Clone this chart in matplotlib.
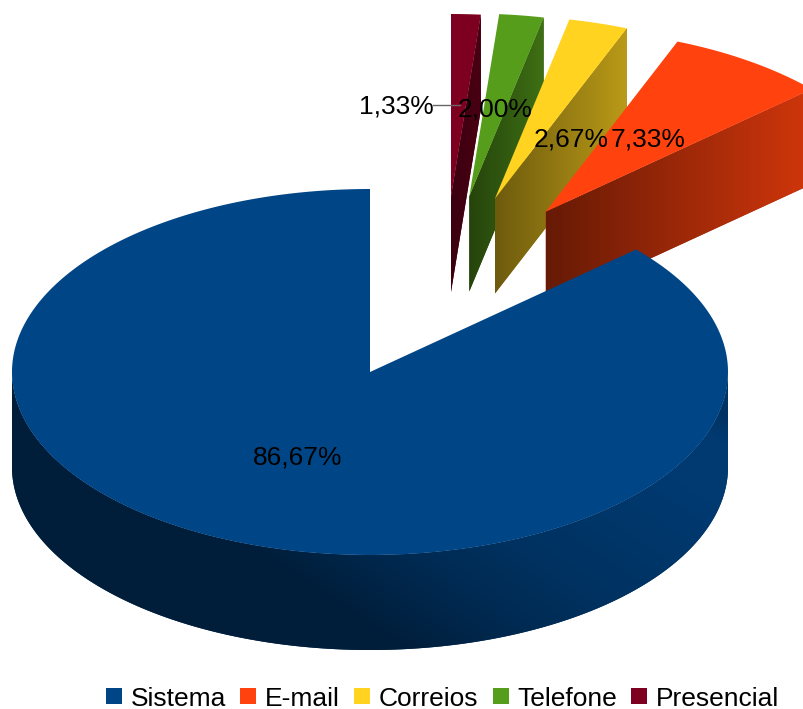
import numpy as np
import matplotlib
matplotlib.use("Agg")
import matplotlib.pyplot as plt
from matplotlib.colors import to_rgb
from matplotlib.patches import Patch, Polygon

plt.rcParams["font.family"] = ["Liberation Sans", "DejaVu Sans"]

# Data
categories = ["Sistema", "E-mail", "Correios", "Telefone", "Presencial"]
percentages = [86.67, 7.33, 2.67, 2.00, 1.33]

# Style and layout
colors = ["#004586", "#ff420e", "#ffd320", "#579d1c", "#7e0021"]
apexes = [(370, 372), (545.7, 211.7), (495, 198.5), (469.3, 196.5), (451, 197)]
cut_shade_end = [0.6, 0.82, 0.73, 0.71, 0.58]
cut_shade_start = [0.4, 0.40, 0.43, 0.43, 0.47]
label_positions = [(298, 457.5), (648, 139), (571, 139), (495.5, 109), (396, 106.5)]
RX, RY, DEPTH = 358, 183, 95
FONT = 19


def rim(apex, degrees):
    rad = np.radians(degrees)
    return apex[0] + RX * np.cos(rad), apex[1] - RY * np.sin(rad)


def shaded_face(ax, outline, color, shade, zorder):
    """Fill a polygon with a gradient. shade(x, y) gives the darkening factor."""
    pts = np.array(outline)
    x0, x1 = pts[:, 0].min(), pts[:, 0].max()
    y0, y1 = pts[:, 1].min(), pts[:, 1].max()
    xs, ys = np.meshgrid(np.linspace(x0, x1, 200), np.linspace(y0, y1, 100))
    factor = shade(xs, ys)
    img = np.clip(factor[..., None] * np.array(to_rgb(color)), 0, 1)
    base = Polygon(outline, closed=True, facecolor=tuple(np.array(to_rgb(color)) * factor.mean()),
                   edgecolor="none", zorder=zorder)
    ax.add_patch(base)
    im = ax.imshow(img, extent=(x0, x1, y1, y0), origin="upper", aspect="auto",
                   interpolation="bilinear", zorder=zorder + 0.5)
    im.set_clip_path(Polygon(outline, closed=True, transform=ax.transData))


fig = plt.figure(figsize=(8.04, 7.09), dpi=100)
ax = fig.add_axes([0, 0, 1, 1])

# Slice angles from the values: counter-clockwise from 12 o'clock
total = sum(percentages)
sweeps = [p / total * 360 for p in percentages]
starts = 90 + np.concatenate([[0], np.cumsum(sweeps)[:-1]])

# Exploded slices, painted back to front; Sistema last
for i in [4, 3, 2, 1]:
    apex = apexes[i]
    a0, a1 = starts[i], starts[i] + sweeps[i]
    outer = rim(apex, a0)
    face = [apex, outer, (outer[0], outer[1] + DEPTH), (apex[0], apex[1] + DEPTH)]
    s0, s1 = cut_shade_start[i], cut_shade_end[i]
    ax_x0, ax_x1 = apex[0], outer[0]
    shaded_face(ax, face, colors[i],
                lambda x, y, s0=s0, s1=s1, a=ax_x0, b=ax_x1: s0 + (s1 - s0) * (x - a) / (b - a),
                zorder=(5 - i) * 2)
    arc = np.linspace(a0, a1, 40)
    ax.add_patch(Polygon([apex] + [rim(apex, a) for a in arc], closed=True,
                         facecolor=colors[i], edgecolor="none", zorder=(5 - i) * 2 + 1))

# Sistema outer wall
apex = apexes[0]
wall_angles = np.linspace(180, 360, 361)
upper = [rim(apex, a) for a in wall_angles]
lower = [(x, y + DEPTH) for x, y in upper][::-1]
wall_eff = [260, 330, 467, 600, 850, 960, 1000]
wall_fac = [0.43, 0.44, 0.60, 0.72, 0.84, 0.85, 0.75]
shaded_face(ax, upper + lower, colors[0],
            lambda x, y: np.interp(x - 1.5 * (y - 600), wall_eff, wall_fac), zorder=20)
arc = np.linspace(starts[0], starts[0] + sweeps[0], 500)
ax.add_patch(Polygon([apex] + [rim(apex, a) for a in arc], closed=True,
                     facecolor=colors[0], edgecolor="none", zorder=21))

# Leader line for the smallest slice
ax.plot([433, 460], [105, 105], color="#666666", lw=1.0, zorder=29)

# Value labels
for p, (x, y) in zip(percentages, label_positions):
    ax.text(x, y, f"{p:.2f}%".replace(".", ","), fontsize=FONT, color="black",
            ha="center", va="center", zorder=30)

ax.set_xlim(0, 804)
ax.set_ylim(709, 0)
ax.axis("off")

# Legend
handles = [Patch(facecolor=c, edgecolor="none", label=n) for c, n in zip(colors, categories)]
ax.legend(handles=handles, loc="lower right", bbox_to_anchor=(779 / 804, -1.5 / 709),
          ncol=5, frameon=False, fontsize=FONT, borderaxespad=0, borderpad=0,
          handlelength=0.606, handleheight=0.555, handletextpad=0.32, columnspacing=0.55)

fig.savefig("out.png", dpi=100)
